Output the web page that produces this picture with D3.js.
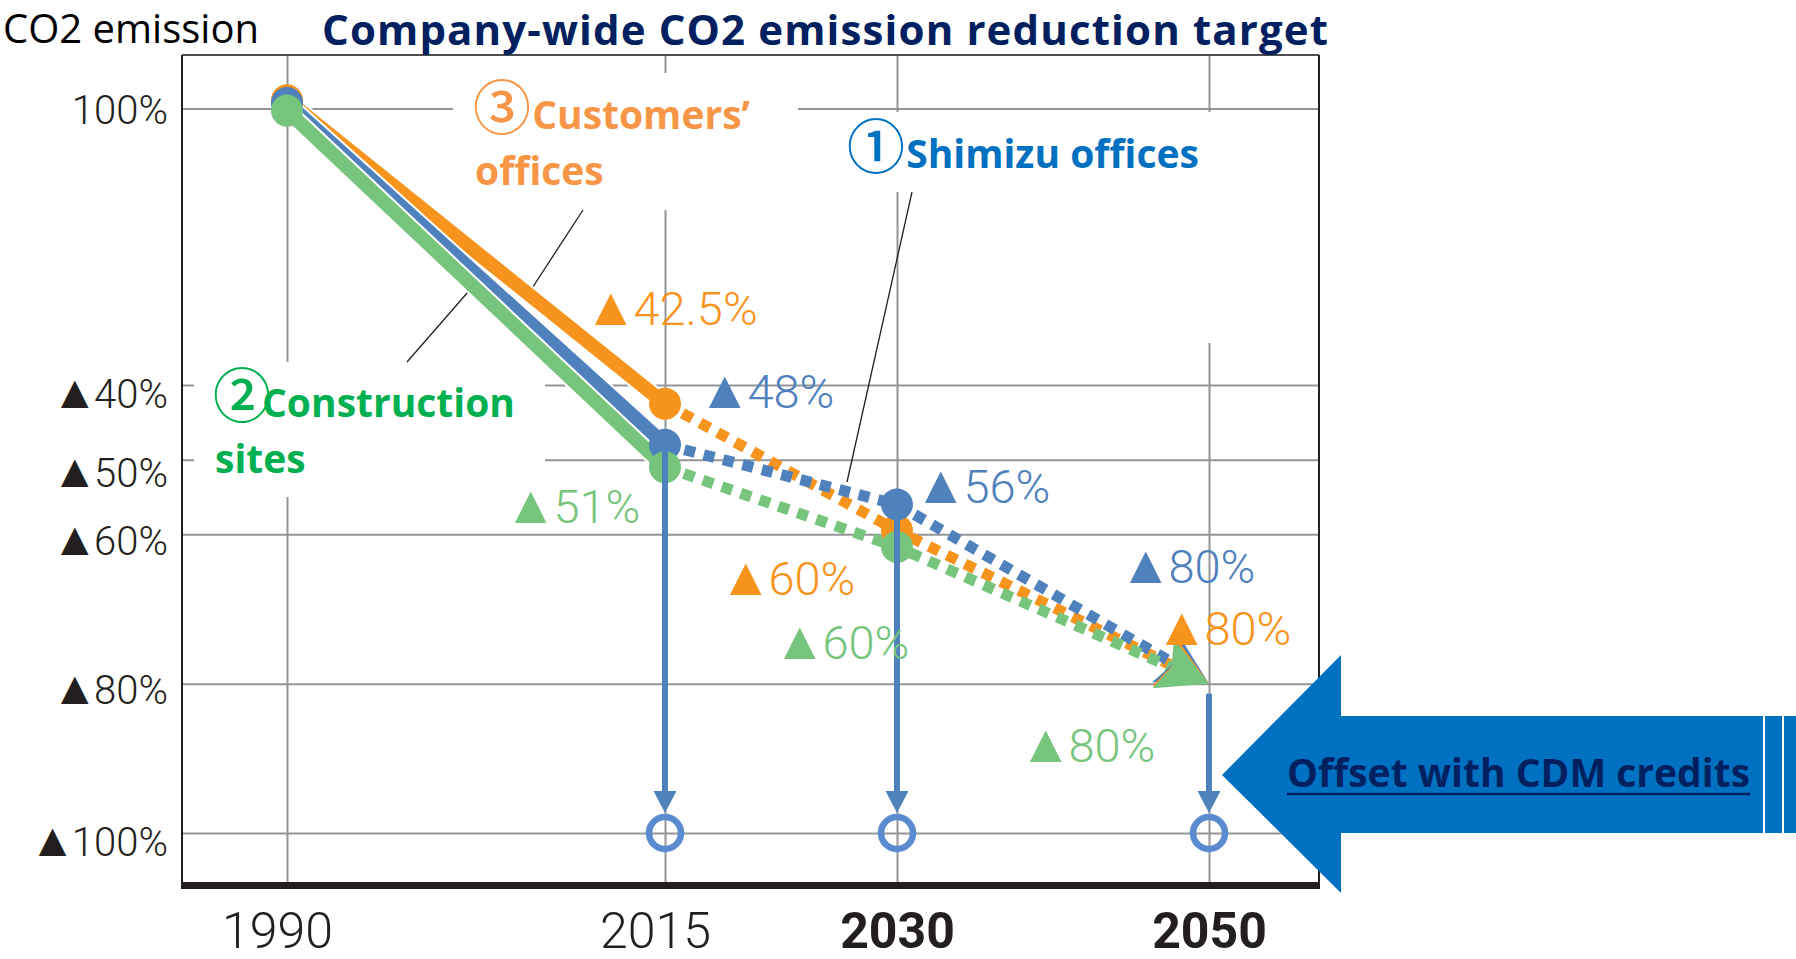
<!DOCTYPE html>
<html><head><meta charset="utf-8">
<script src="https://cdn.jsdelivr.net/npm/d3@7"></script>
<style>body{margin:0;background:#fff}svg{display:block}</style>
</head><body>
<svg id="chart" width="1796" height="959"></svg>
<script>
// ---------------- data ----------------
const years = [1990, 2015, 2030, 2050];
const xTickLabels = ["1990", "2015", "2030", "2050"];
const yTickValues = [0, 40, 50, 60, 80, 100];            // reduction (%)
const yTickLabels = ["100%", "▲40%", "▲50%", "▲60%", "▲80%", "▲100%"];
const customersValues    = [-1.2, 42.5, 59.5, 80];        // ③ Customers' offices
const shimizuValues      = [-0.8, 48, 56, 80];            // ① Shimizu offices
const constructionValues = [0.3, 51, 61.7, 80];           // ② Construction sites
const customersLabels    = [null, "▲42.5%", "▲60%", "▲80%"];
const shimizuLabels      = [null, "▲48%", "▲56%", "▲80%"];
const constructionLabels = [null, "▲51%", "▲60%", "▲80%"];
const actualLastYear = 2015;          // solid up to here, dotted target after
const offsetYears = [2015, 2030, 2050];  // offset with CDM credits
const offsetTarget = 100;

// ---------------- layout / style ----------------
const frame = {left: 182, right: 1319, top: 55, bottom: 885};
const x = d3.scaleLinear().domain(years).range([287, 665, 897, 1209]);
const y = d3.scaleLinear().domain([0, 40, 100]).range([108.5, 385, 833]);
const yLabelShift = [15, 22, 27, 20, 20, 22];
const NUM_FONT = "Roboto, 'DejaVu Sans', sans-serif";
const TXT_FONT = "'Open Sans', sans-serif";
const CJK_FONT = "'Noto Sans CJK JP', 'DejaVu Sans', sans-serif";
const series = [
  {key: "customers", values: customersValues, labels: customersLabels, color: "#f7941d",
   labelOffsets: [null, [-81, -79], [-178, 64], [-54, -39]]},
  {key: "shimizu", values: shimizuValues, labels: shimizuLabels, color: "#4f81bd",
   labelOffsets: [null, [33, -37], [17, -1], [-90, -101]]},
  {key: "construction", values: constructionValues, labels: constructionLabels, color: "#77c47d",
   labelOffsets: [null, [-161, 56], [-124, 112], [-190, 78]]}
];

const svg = d3.select("#chart");

// helper: put a "▲" prefix in its own (symbol-font) tspan
function splitTriangle(sel, str, triSize, gap) {
  sel.text(null);
  if (str[0] === "▲") {
    sel.append("tspan").style("font-family", "'DejaVu Sans'").style("font-size", triSize + "px").text("▲");
    sel.append("tspan").attr("dx", gap).text(str.slice(1));
  } else {
    sel.append("tspan").text(str);
  }
}

// ---------------- axes / gridlines ----------------
const gx = svg.append("g").attr("transform", `translate(0,${frame.bottom})`)
  .call(d3.axisBottom(x).tickValues(years)
    .tickFormat(d => xTickLabels[years.indexOf(d)])
    .tickSize(-(frame.bottom - frame.top)).tickSizeOuter(0));
gx.select(".domain").remove();
gx.selectAll(".tick line").attr("stroke", "#939598").attr("stroke-width", 2);
gx.selectAll(".tick text")
  .attr("y", 63).attr("dy", 0)
  .attr("dx", d => d <= actualLastYear ? -10 : 0)
  .attr("fill", "#231f20")
  .style("font-family", NUM_FONT).style("font-size", "50px")
  .style("font-weight", d => d <= actualLastYear ? 300 : 700);

const gy = svg.append("g").attr("transform", `translate(${frame.left},0)`)
  .call(d3.axisLeft(y).tickValues(yTickValues)
    .tickFormat(d => yTickLabels[yTickValues.indexOf(d)])
    .tickSize(-(frame.right - frame.left)).tickSizeOuter(0).tickPadding(14));
gy.select(".domain").remove();
gy.selectAll(".tick line").attr("stroke", "#939598").attr("stroke-width", 2);
gy.selectAll(".tick text")
  .attr("dy", d => yLabelShift[yTickValues.indexOf(d)]).attr("fill", "#231f20")
  .style("font-family", NUM_FONT).style("font-size", "40px").style("font-weight", 300)
  .each(function(d) { splitTriangle(d3.select(this), yTickLabels[yTickValues.indexOf(d)], 47, -4); });

// white backgrounds of the callout labels (they interrupt the grid)
[[453, 73, 345, 137], [194, 362, 351, 135], [840, 112, 375, 80], [1199, 112, 20, 231]]
  .forEach(r => svg.append("rect").attr("x", r[0]).attr("y", r[1]).attr("width", r[2]).attr("height", r[3]).attr("fill", "#fff"));

// frame
svg.append("line").attr("x1", frame.left).attr("x2", frame.right).attr("y1", frame.top).attr("y2", frame.top)
  .attr("stroke", "#4d4d4f").attr("stroke-width", 2);
svg.append("line").attr("x1", frame.left).attr("x2", frame.left).attr("y1", frame.top).attr("y2", frame.bottom)
  .attr("stroke", "#231f20").attr("stroke-width", 2);
svg.append("line").attr("x1", frame.right).attr("x2", frame.right).attr("y1", frame.top).attr("y2", frame.bottom)
  .attr("stroke", "#231f20").attr("stroke-width", 2);
svg.append("line").attr("x1", frame.left - 1).attr("x2", frame.right + 1).attr("y1", frame.bottom + 0.5).attr("y2", frame.bottom + 0.5)
  .attr("stroke", "#231f20").attr("stroke-width", 7);

// leader lines
[[583, 210, 527, 296], [407, 362, 468, 292], [912, 192, 847, 482]].forEach(l =>
  svg.append("line").attr("x1", l[0]).attr("y1", l[1]).attr("x2", l[2]).attr("y2", l[3])
    .attr("stroke", "#231f20").attr("stroke-width", 1.3));

// ---------------- series ----------------
const pts = s => years.map((yr, i) => [x(yr), y(s.values[i])]);
const line = d3.line();
const solidIdx = years.filter(yr => yr <= actualLastYear).length;

// solid (actual) lines with thin white casing
series.forEach(s => {
  const p = pts(s).slice(0, solidIdx);
  svg.append("path").attr("d", line(p)).attr("fill", "none").attr("stroke", "#fff").attr("stroke-width", 18);
  svg.append("path").attr("d", line(p)).attr("fill", "none").attr("stroke", s.color).attr("stroke-width", 14);
});

// dotted (target) lines, shortened under the arrowhead
const HEAD_L = 50, HEAD_W = 27;
series.forEach(s => {
  const p = pts(s).slice(solidIdx - 1);
  const n = p.length, [x1, y1] = p[n - 2], [x2, y2] = p[n - 1];
  const L = Math.hypot(x2 - x1, y2 - y1), r = (L - 24) / L;
  const q = p.slice(); q[n - 1] = [x1 + (x2 - x1) * r, y1 + (y2 - y1) * r];
  svg.append("path").attr("d", line(q)).attr("fill", "none").attr("stroke", s.color)
    .attr("stroke-width", 11).attr("stroke-dasharray", "11 9");
});

// circles at measured/milestone points (not at the final arrow point)
series.forEach(s => {
  svg.selectAll(null).data(pts(s).slice(0, years.length - 1)).enter().append("circle")
    .attr("cx", d => d[0]).attr("cy", d => d[1]).attr("r", 16).attr("fill", s.color);
});

// offset arrows down to ▲100%
const blue = "#4f81bd";
offsetYears.forEach(yr => {
  const i = years.indexOf(yr);
  const cx = x(yr), yEnd = y(offsetTarget);
  const tip = yEnd - 20, base = tip - 22;
  const yStart = y(shimizuValues[i]) + (i === years.length - 1 ? 10 : 0);
  svg.append("line").attr("x1", cx).attr("x2", cx).attr("y1", yStart).attr("y2", base + 2)
    .attr("stroke", blue).attr("stroke-width", 6);
  svg.append("path").attr("d", `M${cx - 11.5},${base} L${cx + 11.5},${base} L${cx},${tip} Z`).attr("fill", blue);
  svg.append("circle").attr("cx", cx).attr("cy", yEnd).attr("r", 16).attr("fill", "none")
    .attr("stroke", "#5a8ad0").attr("stroke-width", 6.5);
});

// arrowheads at 2050
["shimizu", "customers", "construction"].forEach(k => {
  const s = series.find(d => d.key === k);
  const p = pts(s), n = p.length;
  const [x1, y1] = p[n - 2], [x2, y2] = p[n - 1];
  const ang = Math.atan2(y2 - y1, x2 - x1) * 180 / Math.PI;
  svg.append("path").attr("d", `M0,0 L${-HEAD_L},${-HEAD_W} L${-HEAD_L + 9},0 L${-HEAD_L},${HEAD_W} Z`)
    .attr("transform", `translate(${x2},${y2}) rotate(${ang})`).attr("fill", s.color);
});

// value labels
series.forEach(s => {
  years.forEach((yr, i) => {
    if (!s.labels[i]) return;
    const [dx, dy] = s.labelOffsets[i];
    const t = svg.append("text").attr("x", x(yr) + dx).attr("y", y(s.values[i]) + dy)
      .attr("fill", s.color).style("font-family", NUM_FONT).style("font-size", "47px").style("font-weight", 300);
    splitTriangle(t, s.labels[i], 54, -4);
  });
});

// callout labels
function callout(xp, yp, color, circled, first, second) {
  const t = svg.append("text").attr("x", xp).attr("y", yp).attr("fill", color)
    .style("font-family", TXT_FONT).style("font-size", "39px").style("font-weight", 700);
  t.append("tspan").style("font-family", CJK_FONT).style("font-weight", 500).style("font-size", "58px").text(circled);
  t.append("tspan").attr("dx", -9).text(first);
  if (second) {
    svg.append("text").attr("x", xp + 2).attr("y", yp + 56).attr("fill", color)
      .style("font-family", TXT_FONT).style("font-size", "39px").style("font-weight", 700).text(second);
  }
}
callout(473, 129, "#f79646", "③", " Customers’", "offices");
callout(213, 417, "#00b050", "②", "Construction", "sites");
callout(847, 168, "#0070c0", "①", " Shimizu offices", null);

// ---------------- titles ----------------
svg.append("text").attr("x", 3).attr("y", 43).attr("fill", "#000")
  .style("font-family", TXT_FONT).style("font-size", "40px").text("CO2 emission");
svg.append("text").attr("x", 322).attr("y", 45).attr("fill", "#002060")
  .attr("textLength", 1006).attr("lengthAdjust", "spacing")
  .style("font-family", TXT_FONT).style("font-size", "42px").style("font-weight", 700)
  .text("Company-wide CO2 emission reduction target");

// ---------------- CDM offset arrow ----------------
const arrowBlue = "#0070c0";
svg.append("path").attr("fill", arrowBlue)
  .attr("d", "M1222,775 L1341,655 L1341,716 L1763,716 L1763,833 L1341,833 L1341,893 Z");
svg.append("rect").attr("x", 1765).attr("y", 716).attr("width", 17).attr("height", 117).attr("fill", arrowBlue);
svg.append("rect").attr("x", 1784).attr("y", 716).attr("width", 12).attr("height", 117).attr("fill", arrowBlue);
const cdm = svg.append("text").attr("x", 1287).attr("y", 787).attr("fill", "#002060")
  .style("font-family", TXT_FONT).style("font-size", "39px").style("font-weight", 700)
  .text("Offset with CDM credits");
const cdmLen = cdm.node().getComputedTextLength();
svg.append("line").attr("x1", 1287).attr("x2", 1287 + cdmLen).attr("y1", 794).attr("y2", 794)
  .attr("stroke", "#002060").attr("stroke-width", 2.5);
</script>
</body></html>
